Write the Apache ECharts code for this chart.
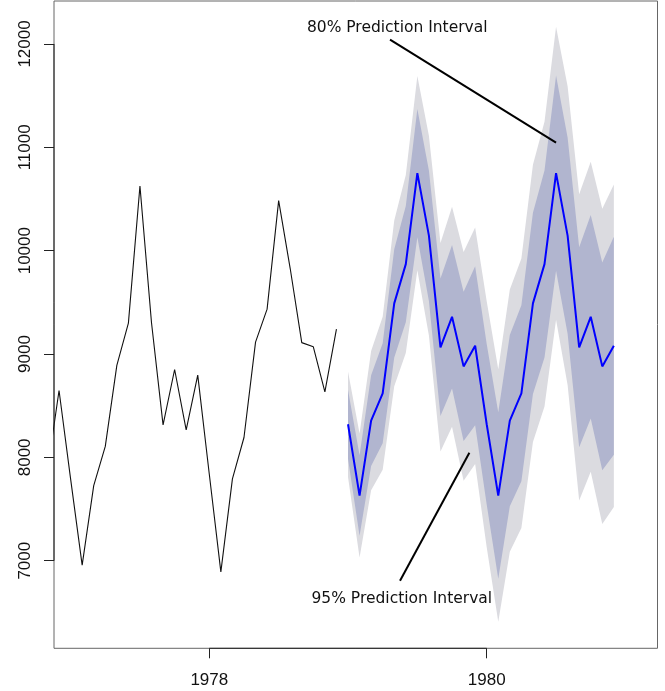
<!DOCTYPE html>
<html>
<head>
<meta charset="utf-8">
<script src="https://cdn.jsdelivr.net/npm/echarts@6/dist/echarts.min.js"></script>
<style>html,body{margin:0;padding:0;background:#fff}#c{width:665px;height:691px}</style>
</head>
<body>
<div id="c"></div>
<script>
// ---- data ----
const obsStart = 1976 + 10 / 12;   // Nov 1976, monthly
const observed = [7874, 8647,
  7792, 6957, 7726, 8106, 8890, 9299, 10625, 9302, 8314, 8850, 8265, 8796,
  7836, 6892, 7791, 8192, 9115, 9434, 10484, 9827, 9110, 9070, 8633, 9240];
const fcStart = 1979;              // Jan 1979, monthly
const fcMean = [8320, 7630, 8355, 8620, 9490, 9870, 10750, 10145, 9065, 9360, 8880, 9080,
  8320, 7630, 8355, 8620, 9490, 9870, 10750, 10145, 9065, 9360, 8880, 9080];
const hi95 = [8830, 8230, 9028, 9361, 10293, 10731, 11690, 11111, 10073, 10424, 9986, 10225,
  9510, 8852, 9623, 9925, 10832, 11247, 12168, 11590, 10547, 10860, 10405, 10640];
const lo95 = [7810, 7030, 7682, 7879, 8687, 9009, 9810, 9179, 8057, 8296, 7774, 7935,
  7130, 6408, 7087, 7315, 8148, 8493, 9332, 8700, 7583, 7860, 7355, 7520];
const hi80 = [8653, 8020, 8794, 9104, 10014, 10432, 11370, 10776, 9730, 10055, 9602, 9850,
  9097, 8436, 9183, 9472, 10366, 10775, 11695, 11095, 10033, 10345, 9885, 10135];
const lo80 = [7987, 7240, 7916, 8136, 8966, 9308, 10130, 9514, 8400, 8665, 8158, 8310,
  7543, 6824, 7527, 7768, 8614, 8965, 9805, 9195, 8097, 8375, 7875, 8025];
const xTicks = [1978, 1980];
const yTicks = [7000, 8000, 9000, 10000, 11000, 12000];
const noteTexts = ['80% Prediction Interval', '95% Prediction Interval'];
const notePos = [[1979.355, 12155], [1979.388, 6628]];
const noteLines = [[[1979.303, 12042], [1980.5, 11045]], [[1979.375, 6806], [1979.875, 8045]]];

// ---- chart ----
const X_MIN = 1976.8803, X_MAX = 1981.2314, Y_MIN = 6152, Y_MAX = 12416;
const obsData = observed.map((v, i) => [obsStart + i / 12, v]);
const fcT = i => fcStart + i / 12;
const fcData = fcMean.map((v, i) => [fcT(i), v]);

function band(lo, hi, color) {
  return {
    type: 'custom', silent: true, z: 1,
    data: [[fcT(0), fcMean[0]]],
    renderItem: function (params, api) {
      const pts = [];
      for (let i = 0; i < hi.length; i++) pts.push(api.coord([fcT(i), hi[i]]));
      for (let i = lo.length - 1; i >= 0; i--) pts.push(api.coord([fcT(i), lo[i]]));
      return { type: 'polygon', shape: { points: pts }, style: { fill: color, stroke: null } };
    }
  };
}

const chart = echarts.init(document.getElementById('c'), null, { renderer: 'canvas' });
const labelFont = { fontFamily: 'Liberation Sans', fontSize: 17, color: '#111' };
const series = [
  band(lo95, hi95, '#DBDBE0'),
  band(lo80, hi80, '#B1B5CF'),
  { type: 'line', data: fcData, symbol: 'none', z: 3, animation: false,
    lineStyle: { color: '#0000FF', width: 2 } },
  { type: 'line', data: obsData, symbol: 'none', z: 3, clip: true, animation: false,
    lineStyle: { color: '#111', width: 1.1 } }
];
noteLines.forEach(seg => series.push({
  type: 'line', data: seg, symbol: 'none', z: 4, animation: false,
  lineStyle: { color: '#000', width: 2 }
}));
series.push({
  type: 'custom', silent: true, z: 5,
  data: notePos.map((p, i) => [p[0], p[1], i]),
  renderItem: function (params, api) {
    const i = api.value(2);
    const pt = api.coord([api.value(0), api.value(1)]);
    return { type: 'text', x: pt[0], y: pt[1],
      style: { text: noteTexts[i], textAlign: 'center', textVerticalAlign: 'middle',
        fontFamily: 'DejaVu Sans', fontSize: 15.5, fill: '#111' } };
  }
});

chart.setOption({
  animation: false,
  backgroundColor: '#fff',
  grid: { left: 54, right: 7.5, top: 1, bottom: 42.7, show: true, borderColor: '#666', borderWidth: 1,
          backgroundColor: 'transparent', containLabel: false, outerBoundsMode: 'none' },
  xAxis: {
    type: 'value', min: X_MIN, max: X_MAX,
    axisLine: { show: false },
    splitLine: { show: false },
    axisTick: { show: true, inside: false, length: 10, customValues: xTicks, lineStyle: { color: '#222' } },
    axisLabel: Object.assign({ show: true, margin: 24, customValues: xTicks, formatter: v => String(v) }, labelFont)
  },
  yAxis: {
    type: 'value', min: Y_MIN, max: Y_MAX,
    axisLine: { show: false },
    splitLine: { show: false },
    axisTick: { show: true, inside: false, length: 10, customValues: yTicks, lineStyle: { color: '#222' } },
    axisLabel: Object.assign({ show: true, margin: 20, rotate: 90, customValues: yTicks, formatter: v => String(v) }, labelFont)
  },
  series: series
});

// axis lines drawn from first to last tick (as R does)
const p0 = chart.convertToPixel({ gridIndex: 0 }, [xTicks[0], Y_MIN]);
const p1 = chart.convertToPixel({ gridIndex: 0 }, [xTicks[xTicks.length - 1], Y_MIN]);
const q0 = chart.convertToPixel({ gridIndex: 0 }, [X_MIN, yTicks[0]]);
const q1 = chart.convertToPixel({ gridIndex: 0 }, [X_MIN, yTicks[yTicks.length - 1]]);
chart.setOption({
  graphic: [
    { type: 'line', z: 10, shape: { x1: p0[0], y1: p0[1], x2: p1[0], y2: p1[1] }, style: { stroke: '#222', lineWidth: 1 } },
    { type: 'line', z: 10, shape: { x1: q0[0], y1: q0[1], x2: q1[0], y2: q1[1] }, style: { stroke: '#222', lineWidth: 1 } }
  ]
});
</script>
</body>
</html>
